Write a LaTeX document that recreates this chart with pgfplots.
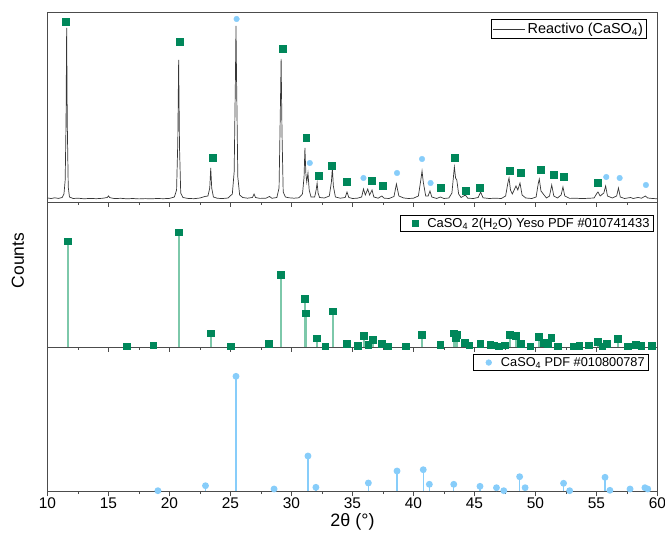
\documentclass[border=0pt]{standalone}
\usepackage{fontspec}
\setmainfont{Liberation Sans}
\usepackage{pgfplots}
\pgfplotsset{compat=1.18}
\definecolor{dkgreen}{RGB}{0,135,90}
\definecolor{stemgreen}{RGB}{125,200,170}
\definecolor{ltblue}{RGB}{135,205,250}
\definecolor{xrdline}{RGB}{55,55,55}
\pgfplotsset{
  panel/.style={
    scale only axis, width=610bp,
    xmin=10, xmax=60,
    xtick={10,15,...,60}, minor x tick num=1,
    ytick=\empty,
    tick align=outside, xtick pos=left,
    major tick length=5bp, minor tick length=3bp,
    axis line style={black!70, line width=0.8bp},
    every tick/.style={black!70, line width=0.8bp},
    /pgf/number format/assume math mode=true,
    xticklabel style={font=\fontsize{15.5}{16}\selectfont, inner sep=1.5bp},
    legend style={draw=black, line width=0.6bp, fill=white},
    legend cell align=left,
    clip=false,
  },
  marklegend/.style={legend image code/.code={\path (0cm,-0.1cm) (0.8cm,0.1cm); \draw[##1] plot coordinates {(0.45cm,0cm)};}},
}
\begin{document}
\begin{tikzpicture}
\useasboundingbox (-47.5bp,-46bp) rectangle (617.5bp,491bp);

% ---------- bottom panel: CaSO4 reference ----------
\begin{axis}[panel, at={(0bp,0bp)}, anchor=south west, height=144bp,
  ymin=0, ymax=144,
  xlabel={2θ (°)},
  xlabel style={font=\fontsize{18}{19}\selectfont, at={(axis description cs:0.5,0)}, anchor=center, yshift=-30.7bp},
  legend style={at={(axis description cs:0.986,0.951)}, anchor=north east,
    font=\fontsize{12.8}{13.5}\selectfont, inner xsep=2bp, inner ysep=1bp},
  marklegend,
]
\addlegendimage{only marks, mark=*, mark size=2.8bp, color=ltblue}
\addlegendentry{CaSO\textsubscript{4} PDF \#010800787}
\addplot[ycomb, draw=ltblue, line width=1.2bp, mark=*, mark size=2.8bp,
  mark options={solid, fill=ltblue, draw=ltblue}, forget plot] coordinates {
(19.05,0.3) (22.95,5.3) (25.45,114.7) (28.57,2) (31.35,35) (32.0,3.7)
(36.3,8) (38.65,20) (40.8,21.3) (41.3,6.7) (43.3,6.7) (45.45,4.7)
(46.8,3.3) (47.4,0.3) (48.7,14.3) (49.15,3.3) (52.3,7.7) (52.8,0.3)
(55.7,13.7) (56.1,0.7) (57.75,2) (58.97,3.3) (59.2,2)
};
\end{axis}

% ---------- middle panel: gypsum reference ----------
\begin{axis}[panel, at={(0bp,144bp)}, anchor=south west, height=145bp,
  ymin=0, ymax=145, xticklabels={},
  ylabel={Counts},
  ylabel style={font=\fontsize{17.5}{18}\selectfont, at={(axis description cs:-0.0484,0.597)}, anchor=center},
  legend style={at={(axis description cs:0.994,0.91)}, anchor=north east,
    font=\fontsize{13}{13.5}\selectfont, inner xsep=2bp, inner ysep=0.5bp},
  marklegend,
]
\addlegendimage{only marks, mark=square*, mark size=3bp, color=dkgreen}
\addlegendentry{CaSO\textsubscript{4} 2(H\textsubscript{2}O) Yeso PDF \#010741433}
\addplot[ycomb, draw=stemgreen, line width=1.6bp, mark=square*, mark size=3bp,
  mark options={solid, fill=dkgreen, draw=dkgreen}, forget plot] coordinates {
(11.68,105.6) (16.5,0.5) (18.7,1.5) (20.8,114.6) (23.4,13.6) (25.05,0.3)
(28.15,3) (29.14,72) (31.1,48) (31.2,33.6) (32.1,8.6) (32.8,0.5) (33.4,35.6)
(34.55,3) (35.45,1) (35.95,10.7) (36.3,2) (36.7,6.7) (37.4,3) (37.9,0.5)
(39.4,0.5) (40.7,11.7) (42.2,2) (43.3,13.3) (43.5,9) (43.6,12) (44.2,4)
(44.6,1.5) (45.5,3) (46.3,2) (46.6,1.5) (47.0,0.5) (47.5,1.5) (47.9,12)
(48.4,11) (48.8,3) (49.6,0.5) (50.3,10) (50.7,4) (51.0,2.5) (51.3,9)
(51.85,0.5) (53.1,0.5) (53.6,1) (54.4,1.5) (55.1,5) (55.5,0.5) (55.85,3)
(56.75,8) (57.6,0.5) (58.25,2) (58.7,1) (59.55,1)
};
\end{axis}

% ---------- top panel: measured pattern ----------
\begin{axis}[panel, at={(0bp,289bp)}, anchor=south west, height=190bp,
  ymin=0, ymax=190, xticklabels={},
  legend style={at={(axis description cs:0.9815,0.962)}, anchor=north east,
    font=\fontsize{14.5}{15}\selectfont, inner xsep=1bp, inner ysep=1.5bp},
  legend image code/.code={\draw[#1] (0cm,0cm) -- (1.15cm,0cm);},
]
\addplot[color=xrdline, line width=0.7bp] table {
10.0 4
10.3 3.5
10.6 4.2
10.9 3.6
11.2 4.5
11.35 8
11.45 22
11.52 80
11.57 174
11.62 80
11.7 15
11.8 5
12.1 3.5
12.5 3.8
13.0 3.2
13.5 3.6
14.0 3.3
14.5 3.7
14.9 4.5
15.0 6
15.1 4.4
15.5 3.4
16.0 3.7
16.5 3.2
17.0 3.5
17.5 3.1
18.0 3.4
18.5 3.2
19.0 3.5
19.5 3.3
20.0 3.6
20.4 5
20.58 12
20.68 60
20.75 142
20.82 55
20.92 9
21.1 4.5
21.5 3.6
22.0 3.3
22.5 4
22.9 5.5
23.15 6
23.3 14
23.38 34
23.46 14
23.6 5
23.9 3.8
24.3 3.4
24.8 4
25.15 8
25.3 30
25.4 120
25.45 176
25.5 120
25.6 25
25.75 7
26.0 4.5
26.4 3.8
26.8 4.5
26.93 8
27.05 4.5
27.4 3.6
27.9 3.8
28.2 5.5
28.4 3.7
28.8 4.5
28.98 14
29.07 80
29.15 143
29.22 70
29.32 10
29.5 5
29.8 4.2
30.2 3.8
30.6 4.2
30.9 8
31.03 25
31.1 54
31.18 28
31.25 20
31.35 29
31.45 12
31.6 5
31.9 5
32.02 12
32.1 19
32.18 9
32.3 4.5
32.7 4
33.1 6
33.27 20
33.35 34
33.43 16
33.6 5
34.0 3.8
34.4 4.5
34.55 10
34.7 4.5
35.0 3.5
35.4 3.8
35.75 5
35.9 13
36.05 7
36.25 13
36.4 7
36.6 12
36.75 5
37.1 3.8
37.4 6
37.6 3.8
38.0 3.5
38.4 5.5
38.6 18
38.8 6
39.2 4
39.6 3.5
40.0 3.8
40.4 6
40.6 22
40.7 31
40.8 20
41.0 6
41.2 6
41.35 11
41.5 5
41.9 3.5
42.2 5
42.5 3.5
42.9 4
43.15 9
43.28 26
43.35 35
43.45 24
43.55 22
43.7 8
43.9 4.5
44.25 7
44.45 3.8
44.9 3.5
45.3 4.5
45.5 10
45.7 4.2
46.2 3.5
46.7 3.8
47.2 3.5
47.55 6
47.75 20
47.83 24
47.95 12
48.1 8
48.4 16
48.55 12
48.73 19
48.9 7
49.2 4
49.7 3.5
50.05 5
50.22 18
50.31 23
50.45 11
50.7 7
50.9 4
51.15 6
51.33 17
51.5 6
51.8 4
52.1 7
52.25 15
52.4 6
52.8 3.6
53.3 3.8
53.8 3.4
54.3 3.7
54.8 4
55.05 9
55.12 10
55.3 6
55.6 9
55.75 16
55.9 6
56.3 4
56.65 6
56.8 14
56.95 5
57.3 3.5
57.8 4.5
58.0 3.5
58.4 4.5
58.7 3.8
59.0 6
59.2 4
59.6 3.5
60.0 3.2
};
\addlegendentry{Reactivo (CaSO\textsubscript{4})}
\addplot[only marks, mark=square*, mark size=3.4bp, color=dkgreen, forget plot] coordinates {
(11.52,180) (20.86,160) (23.56,44) (29.3,153) (31.2,64) (32.2,26) (33.3,36)
(34.5,20) (36.6,21) (37.5,16) (42.25,14) (43.4,44) (44.3,11) (45.45,14)
(47.9,31) (48.8,29) (50.4,32) (51.5,27) (52.3,25) (55.1,19)
};
\addplot[only marks, mark=*, mark size=2.8bp, color=ltblue, forget plot] coordinates {
(25.5,183) (31.5,39) (35.9,24) (38.65,29) (40.7,43) (41.4,19)
(55.8,25) (56.9,24) (59.05,17)
};
\end{axis}
\end{tikzpicture}
\end{document}
